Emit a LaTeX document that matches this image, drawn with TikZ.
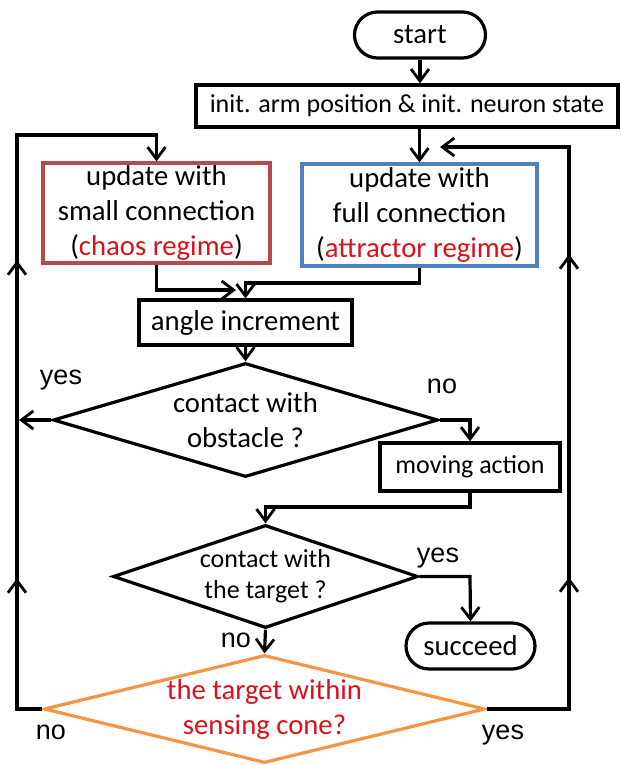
\documentclass[tikz,border=0pt]{standalone}
\usepackage{fontspec}
\setmainfont{Carlito}
\newfontfamily\labelfont{Liberation Sans}
\usetikzlibrary{arrows.meta,shapes.geometric,decorations.markings}

\definecolor{boxred}{HTML}{B84A4A}
\definecolor{boxblue}{HTML}{4F81BD}
\definecolor{conorange}{HTML}{F39543}
\definecolor{txtred}{HTML}{DC0F1A}

\tikzset{
  every picture/.style={x=1bp,y=-1bp},
  flow/.style={line width=3.2bp, line join=miter},
  barb/.style={-{Straight Barb[length=12bp,width=18bp,line width=2.8bp]}},
  upmark/.style={postaction={decorate,decoration={markings,
      mark=at position #1 with {\arrow{Straight Barb[length=12bp,width=18bp,line width=2.8bp]}}}}},
  txt/.style={font=\fontsize{28.7bp}{35bp}\selectfont, align=center},
  txtsmall/.style={font=\fontsize{26bp}{31bp}\selectfont, align=center},
  lab/.style={font=\labelfont\fontsize{27bp}{30bp}\selectfont, inner sep=0},
  procbox/.style={draw, flow, rectangle, inner sep=0},
  termbox/.style={draw, flow, rectangle, rounded corners=23bp, inner sep=0},
  decide/.style={draw, flow, diamond, inner sep=0},
}

\begin{document}
\begin{tikzpicture}
\useasboundingbox (0,0) rectangle (621,765);

% terminals and process boxes
\node[termbox, txt, minimum width=131bp, minimum height=46bp] (start) at (420,35) {start};
\node[procbox, txtsmall, minimum width=422bp, minimum height=42bp] (init) at (407,106)
  {init. arm position \& init. neuron state};
\node[procbox, txt, draw=boxred, minimum width=227bp, minimum height=100bp] (chaos) at (156.5,213)
  {update with\\small connection\\(\textcolor{txtred}{chaos regime})};
\node[procbox, txt, draw=boxblue, minimum width=235bp, minimum height=102bp] (attr) at (419.5,215)
  {update with\\full connection\\(\textcolor{txtred}{attractor regime})};
\node[procbox, txt, minimum width=213bp, minimum height=45bp] (angle) at (245.5,322.5) {angle increment};
\node[procbox, txtsmall, minimum width=180bp, minimum height=48bp] (move) at (470,467) {moving action};
\node[termbox, txt, minimum width=129bp, minimum height=46bp] (succ) at (470.5,646) {succeed};

% decisions
\node[decide, minimum width=385bp, minimum height=114bp,
  label={[txt]center:{contact with\\obstacle ?}}] (obst) at (245.5,420) {};
\node[decide, minimum width=305bp, minimum height=103bp,
  label={[txtsmall]center:{contact with\\the target ?}}] (targ) at (265.5,576.5) {};
\node[decide, draw=conorange, minimum width=441bp, minimum height=108bp,
  label={[txt, text=txtred]center:{the target within\\sensing cone?}}] (cone) at (264.5,709) {};

% bend points of the connectors
\coordinate (lb) at (17,709);
\coordinate (lt) at (17,135);
\coordinate (lc) at (156.5,135);
\coordinate (ly) at (19,420);
\coordinate (rb) at (569,709);
\coordinate (rt) at (569,147);
\coordinate (rend) at (440,147);
\coordinate (cj) at (156.5,290);
\coordinate (cend) at (236,290);
\coordinate (aj) at (419.5,283);
\coordinate (aj2) at (245.5,283);
\coordinate (oj) at (470,420);
\coordinate (mj) at (470,507);
\coordinate (mj2) at (265.5,507);
\coordinate (tj) at (470,576.5);

% main chain
\draw[flow, barb] (start.south) -- (start.south |- init.north);
\draw[flow, barb] (init.south -| attr.north) -- (attr);
\draw[flow, barb] (chaos.south) -- (cj) -- (cend);
\draw[flow, barb] (attr.south) -- (aj) -- (aj2) -- (angle.north);
\draw[flow, barb] (angle) -- (obst);
\draw[flow, barb] (obst.west) -- (ly);
\draw[flow, barb] (obst.east) -- (oj) -- (move.north);
\draw[flow, barb] (move.south) -- (mj) -- (mj2) -- (targ.north);
\draw[flow, barb] (targ.east) -- (tj) -- (succ.north);
\draw[flow, barb] (targ.south) -- (cone.north);

% feedback loops
\draw[flow, barb, upmark=156bp, upmark=474bp] (cone.west) -- (lb) -- (lt) -- (lc) -- (chaos.north);
\draw[flow, barb, upmark=214bp, upmark=537bp] (cone.east) -- (rb) -- (rt) -- (rend);

% branch labels
\node[lab] at (61,380) {yes};
\node[lab] at (442,386) {no};
\node[lab] at (438,558) {yes};
\node[lab] at (236,640) {no};
\node[lab] at (51,732) {no};
\node[lab] at (503,735) {yes};
\end{tikzpicture}
\end{document}
